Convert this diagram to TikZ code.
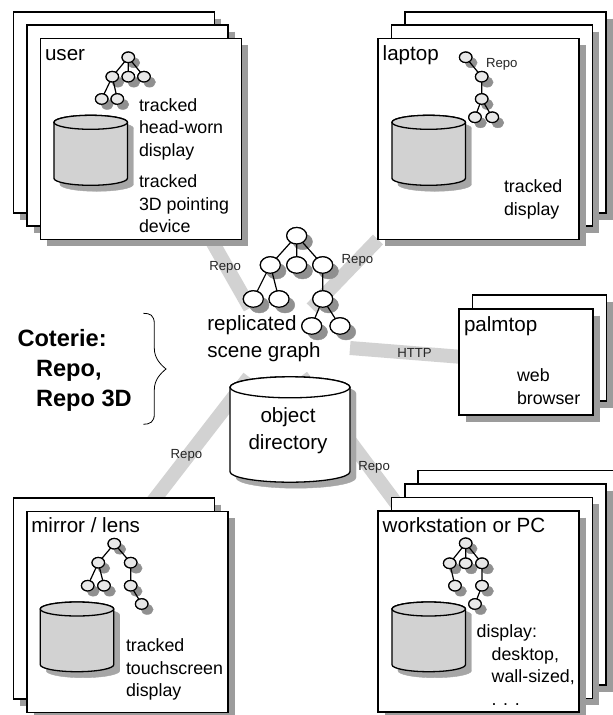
\documentclass[tikz,border=0pt]{standalone}
\usepackage{fontspec}
\setmainfont{Liberation Sans}
\usetikzlibrary{shapes.geometric,calc}
\definecolor{bandgray}{HTML}{D2D2D2}
\definecolor{greycard}{HTML}{9C9C9C}
\definecolor{greytree}{HTML}{909090}
\definecolor{greycyl}{HTML}{A6A6A6}
\definecolor{cylfill}{HTML}{D2D2D2}
\definecolor{treefill}{HTML}{E8E8E8}
\tikzset{
  card/.style={draw=black,fill=white,line width=1.4pt,rectangle,anchor=north west,inner sep=0pt,outer sep=0pt,
    minimum width=201pt,minimum height=201pt},
  palmcard/.style={card,minimum width=134pt,minimum height=106pt},
  tn/.style={ellipse,draw=black,line width=1.2pt,fill=treefill,inner sep=0pt,outer sep=0pt,
    minimum width=12.5pt,minimum height=10.5pt},
  bn/.style={tn,fill=white,minimum width=20pt,minimum height=16.5pt},
  te/.style={draw=black,line width=1.2pt},
  cylbody/.style={draw=black,line width=1.3pt,fill=#1},
  cardstrip/.style={draw=greycard,line width=5.8pt},
  band/.style={draw=bandgray,line width=14pt},
  lbl/.style={inner sep=0pt,outer sep=0pt,anchor=base west},
  ttl/.style={lbl,font=\fontsize{20.6pt}{24pt}\selectfont},
  bodyt/.style={lbl,align=left,font=\fontsize{17.8pt}{22.5pt}\selectfont},
  bigt/.style={lbl,align=left,font=\fontsize{20.6pt}{27pt}\selectfont},
  small/.style={lbl,font=\fontsize{13.2pt}{15pt}\selectfont,text=black!85},
  boldt/.style={lbl,align=left,font=\fontsize{23.6pt}{30pt}\selectfont\bfseries},
}
% card: {style}{name}{x}{y}; its shadow is a thick stroke along the right and lower edges
\newcommand\cardat[4]{%
  \node[#1] (#2) at (#3,#4) {};
  \draw[cardstrip,line join=miter] ([xshift=3.6pt,yshift=-6.5pt]#2.north east)
    -- ([xshift=3.6pt,yshift=-3.6pt]#2.south east)
    -- ([xshift=6.5pt,yshift=-3.6pt]#2.south west);}
% tree nodes: {name}{x}{y}
\newcommand\tnat[3]{%
  \node[tn] (#1) at (#2,#3) {};
  \draw[draw=greytree,fill=greytree,line width=0.4pt] ([xshift=5.5pt,yshift=-5.5pt]#1.center) circle [x radius=6pt,y radius=5pt];
  \draw[line width=1.2pt,fill=treefill] (#1.center) ellipse [x radius=6.25pt,y radius=5.25pt];}
\newcommand\bnat[3]{%
  \node[bn] (#1) at (#2,#3) {};
  \draw[draw=greytree,fill=greytree,line width=0.4pt] ([xshift=6pt,yshift=-6pt]#1.center) circle [x radius=9.8pt,y radius=8pt];
  \draw[line width=1.2pt,fill=white] (#1.center) ellipse [x radius=10pt,y radius=8.25pt];}
% cylinder: {fill}{x centre}{half width}{y of top centre}{y of bottom side}{ry}
\newcommand\cylbody[6]{(#2-#3,#4) -- (#2-#3,#5)
    arc[start angle=180,end angle=360,x radius=#3pt,y radius=#6pt]
    -- (#2+#3,#4) arc[start angle=0,end angle=180,x radius=#3pt,y radius=#6pt] -- cycle}
\newcommand\cylat[6]{%
  \draw[draw=greycyl,fill=greycyl,line width=0.4pt,xshift=6pt,yshift=-6pt] \cylbody{#1}{#2}{#3}{#4}{#5}{#6};
  \draw[cylbody=#1] \cylbody{#1}{#2}{#3}{#4}{#5}{#6};
  \draw[cylbody=#1] (#2,#4) ellipse [x radius=#3pt,y radius=#6pt];}
\begin{document}
\begin{tikzpicture}[x=1pt,y=-1pt]
\useasboundingbox (0,0) rectangle (613,715);

% wide grey connectors run behind everything
\coordinate (bu) at (250,308);
\coordinate (bucard) at (211,239.5);
\coordinate (bl) at (311.7,308.3);
\coordinate (blcard) at (378,239.5);
\coordinate (bh) at (350,348);
\coordinate (bhcard) at (459,356.7);
\coordinate (bm) at (249,377);
\coordinate (bmcard) at (155.5,498);
\coordinate (bw) at (301.4,376);
\coordinate (bwcard) at (402,511);
\draw[band] (bu) -- (bucard);
\draw[band] (bl) -- (blcard);
\draw[band] (bh) -- (bhcard);
\draw[band,shorten >=-8pt] (bm) -- (bmcard);
\draw[band] (bw) -- (bwcard);

% user
\cardat{card}{u1}{13.5}{12}
\cardat{card}{u2}{27}{25}
\cardat{card}{u3}{40.3}{38.5}
\node[ttl] (ut) at (45,60) {user};
\tnat{ua}{128.3}{57.3}
\tnat{ub}{112.3}{76.7}
\tnat{uc}{128.3}{76.7}
\tnat{ud}{144}{76.7}
\tnat{ue}{101.7}{99}
\tnat{uf}{117.3}{99}
\draw[te] (ua)--(ub) (ua)--(uc) (ua)--(ud) (ub)--(ue) (ub)--(uf);
\cylat{cylfill}{90.7}{36.75}{122.3}{178.3}{7}
\node[bodyt] (ud1) at (139,156) {tracked\\head-worn\\display};
\node[bodyt] (ud2) at (139,232.7) {tracked\\3D pointing\\device};

% laptop
\cardat{card}{l1}{405}{12}
\cardat{card}{l2}{391.7}{25}
\cardat{card}{l3}{378}{38.5}
\node[ttl] (lt) at (382.7,60) {laptop};
\tnat{la}{465.7}{57.3}
\tnat{lb}{481.7}{76.7}
\tnat{lc}{481.7}{99}
\tnat{ld}{475}{117.3}
\tnat{le}{492.3}{117.3}
\draw[te] (la)--(lb) (lb)--(lc) (lc)--(ld) (lc)--(le);
\node[small] (lr) at (486,67.7) {Repo};
\cylat{cylfill}{428.7}{36.75}{122.3}{178.3}{7}
\node[bodyt] (ld1) at (504,215) {tracked\\display};

% palmtop
\cardat{palmcard}{p1}{472.7}{295}
\cardat{palmcard}{p2}{459}{309}
\node[ttl] (pt) at (464,331.7) {palmtop};
\node[bodyt] (pd) at (517,404) {web\\browser};

% mirror
\cardat{card}{m1}{13.5}{498}
\cardat{card}{m2}{27}{511.5}
\node[ttl] (mt) at (31.3,532.7) {mirror / lens};
\tnat{ma}{114.3}{543.7}
\tnat{mb}{98.3}{562.7}
\tnat{mc}{130.7}{562.7}
\tnat{md}{87.7}{585.7}
\tnat{me}{104}{585.7}
\tnat{mf}{130.7}{585.7}
\tnat{mg}{141.7}{604}
\draw[te] (ma)--(mb) (ma)--(mc) (mb)--(md) (mb)--(me) (mc)--(mf) (mf)--(mg);
\cylat{cylfill}{77}{36.75}{609}{664.7}{7}
\node[bodyt] (md1) at (126,696.7) {tracked\\touchscreen\\display};

% workstation
\cardat{card}{w4}{418}{470.7}
\cardat{card}{w3}{405}{484}
\cardat{card}{w2}{391.7}{497.7}
\cardat{card}{w1}{378}{511}
\node[ttl] (wt) at (382.7,532.3) {workstation or PC};
\tnat{wa}{465.7}{543.3}
\tnat{wb}{449.7}{563.3}
\tnat{wc}{465.7}{563.3}
\tnat{wd}{482}{563.3}
\tnat{we}{455}{585.7}
\tnat{wf}{482}{585.7}
\tnat{wg}{475}{604}
\draw[te] (wa)--(wb) (wa)--(wc) (wa)--(wd) (wb)--(we) (wd)--(wf) (wf)--(wg);
\cylat{cylfill}{428.7}{36.75}{609}{664.7}{7}
\node[bodyt] (wd1) at (476.7,705) {display:\\\hspace*{15pt}desktop,\\\hspace*{15pt}wall-sized,\\\hspace*{15pt}. . .};

% central scene graph
\bnat{sa}{296.7}{235.7}
\bnat{sb}{270.3}{265}
\bnat{sc}{296.7}{265}
\bnat{sd}{322.7}{265}
\bnat{se}{253.3}{299}
\bnat{sf}{279}{299}
\bnat{sg}{322.7}{299}
\bnat{sh}{311.7}{326}
\bnat{si}{340}{326}
\draw[te] (sa)--(sb) (sa)--(sc) (sa)--(sd) (sb)--(se) (sb)--(sf) (sd)--(sg) (sg)--(sh) (sg)--(si);
\node[bigt] (st) at (207.3,357.3) {replicated\\scene graph};

% object directory
\cylat{white}{290}{60}{387.3}{471.7}{10.5}
\node[lbl,align=center,anchor=base,font=\fontsize{20.6pt}{26.7pt}\selectfont] (odt) at (288,449.3) {object\\directory};

\node[small] (r1) at (209.3,270.7) {Repo};
\node[small] (r2) at (341.7,263.3) {Repo};
\node[small] (r3) at (397.3,357.7) {HTTP};
\node[small] (r4) at (170.7,458.3) {Repo};
\node[small] (r5) at (358.3,470) {Repo};

% Coterie label and brace
\node[boldt] (co) at (17.5,406.7) {Coterie:\\\hspace*{18.5pt}Repo,\\\hspace*{18.5pt}Repo 3D};
\coordinate (bra) at (143.3,313.3);
\coordinate (brb) at (166,369);
\coordinate (brc) at (143.3,424.3);
\draw[line width=0.8pt] (bra) .. controls (150,313.3) and (154.3,315) .. (154.3,324)
  -- (154.3,348) .. controls (154.3,358) and (160,364) .. (brb)
  .. controls (160,374) and (154.3,380) .. (154.3,390)
  -- (154.3,414) .. controls (154.3,422) and (150,424.3) .. (brc);
\end{tikzpicture}
\end{document}
